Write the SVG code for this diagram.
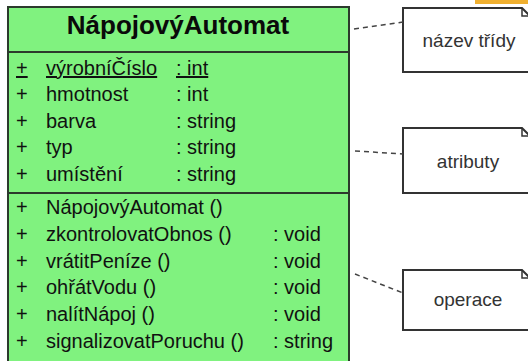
<svg xmlns="http://www.w3.org/2000/svg" width="528" height="361" viewBox="0 0 528 361">
  <style>
    .cls { fill: #80f27f; stroke: #2c3a2c; stroke-width: 2; }
    .div { stroke: #2c3a2c; stroke-width: 2; }
    .title { font-family: "Liberation Sans", Arial, sans-serif; font-size: 26px; font-weight: bold; fill: #0a0a0a; text-anchor: middle; }
    .row { font-family: "Liberation Sans", Arial, sans-serif; font-size: 20px; fill: #111; }
    .ul { text-decoration: underline; }
    .note { fill: #fff; stroke: #333; stroke-width: 2; }
    .fold { fill: none; stroke: #333; stroke-width: 1.5; }
    .ntext { font-family: "Liberation Sans", Arial, sans-serif; font-size: 19px; fill: #333; text-anchor: middle; }
    .link { fill: none; stroke: #444; stroke-width: 1.5; stroke-dasharray: 5 4; }
  </style>

  <rect width="528" height="361" fill="#fff"/>
  <rect x="475" y="0" width="53" height="4" fill="#f0b030"/>

  <!-- class box -->
  <g id="class-NapojovyAutomat">
    <rect class="cls" x="8" y="7" width="341" height="370"/>
    <text class="title" x="178" y="34">NápojovýAutomat</text>
    <line class="div" x1="8" y1="52" x2="349" y2="52"/>

    <g class="row">
      <text x="16" y="75" class="ul">+</text>
      <text x="46" y="75" class="ul">výrobníČíslo</text>
      <text x="176" y="75" class="ul">: int</text>

      <text x="16" y="101">+</text>
      <text x="46" y="101">hmotnost</text>
      <text x="176" y="101">: int</text>

      <text x="16" y="128">+</text>
      <text x="46" y="128">barva</text>
      <text x="176" y="128">: string</text>

      <text x="16" y="154">+</text>
      <text x="46" y="154">typ</text>
      <text x="176" y="154">: string</text>

      <text x="16" y="181">+</text>
      <text x="46" y="181">umístění</text>
      <text x="176" y="181">: string</text>
    </g>

    <line class="div" x1="8" y1="193" x2="349" y2="193"/>

    <g class="row">
      <text x="16" y="214">+</text>
      <text x="46" y="214">NápojovýAutomat ()</text>

      <text x="16" y="241">+</text>
      <text x="46" y="241">zkontrolovatObnos ()</text>
      <text x="273" y="241">: void</text>

      <text x="16" y="268">+</text>
      <text x="46" y="268">vrátitPeníze ()</text>
      <text x="273" y="268">: void</text>

      <text x="16" y="294">+</text>
      <text x="46" y="294">ohřátVodu ()</text>
      <text x="273" y="294">: void</text>

      <text x="16" y="321">+</text>
      <text x="46" y="321">nalítNápoj ()</text>
      <text x="273" y="321">: void</text>

      <text x="16" y="348">+</text>
      <text x="46" y="348">signalizovatPoruchu ()</text>
      <text x="273" y="348">: string</text>
    </g>
  </g>

  <!-- notes -->
  <g id="note-nazev">
    <path class="note" d="M403,8 H522 L531,17 V72 H403 Z"/>
    <path class="fold" d="M522,8 V16 H531"/>
    <text class="ntext" x="469" y="47">název třídy</text>
  </g>
  <g id="note-atributy">
    <path class="note" d="M403,128 H522 L531,137 V193 H403 Z"/>
    <path class="fold" d="M522,128 V136 H531"/>
    <text class="ntext" x="468" y="168">atributy</text>
  </g>
  <g id="note-operace">
    <path class="note" d="M403,270 H522 L531,279 V330 H403 Z"/>
    <path class="fold" d="M522,270 V278 H531"/>
    <text class="ntext" x="468" y="306">operace</text>
  </g>

  <!-- connectors -->
  <g id="connectors">
    <path class="link" d="M354,29 L403,22"/>
    <path class="link" d="M355,151 L403,154"/>
    <path class="link" d="M355,274 L403,293"/>
  </g>
</svg>
